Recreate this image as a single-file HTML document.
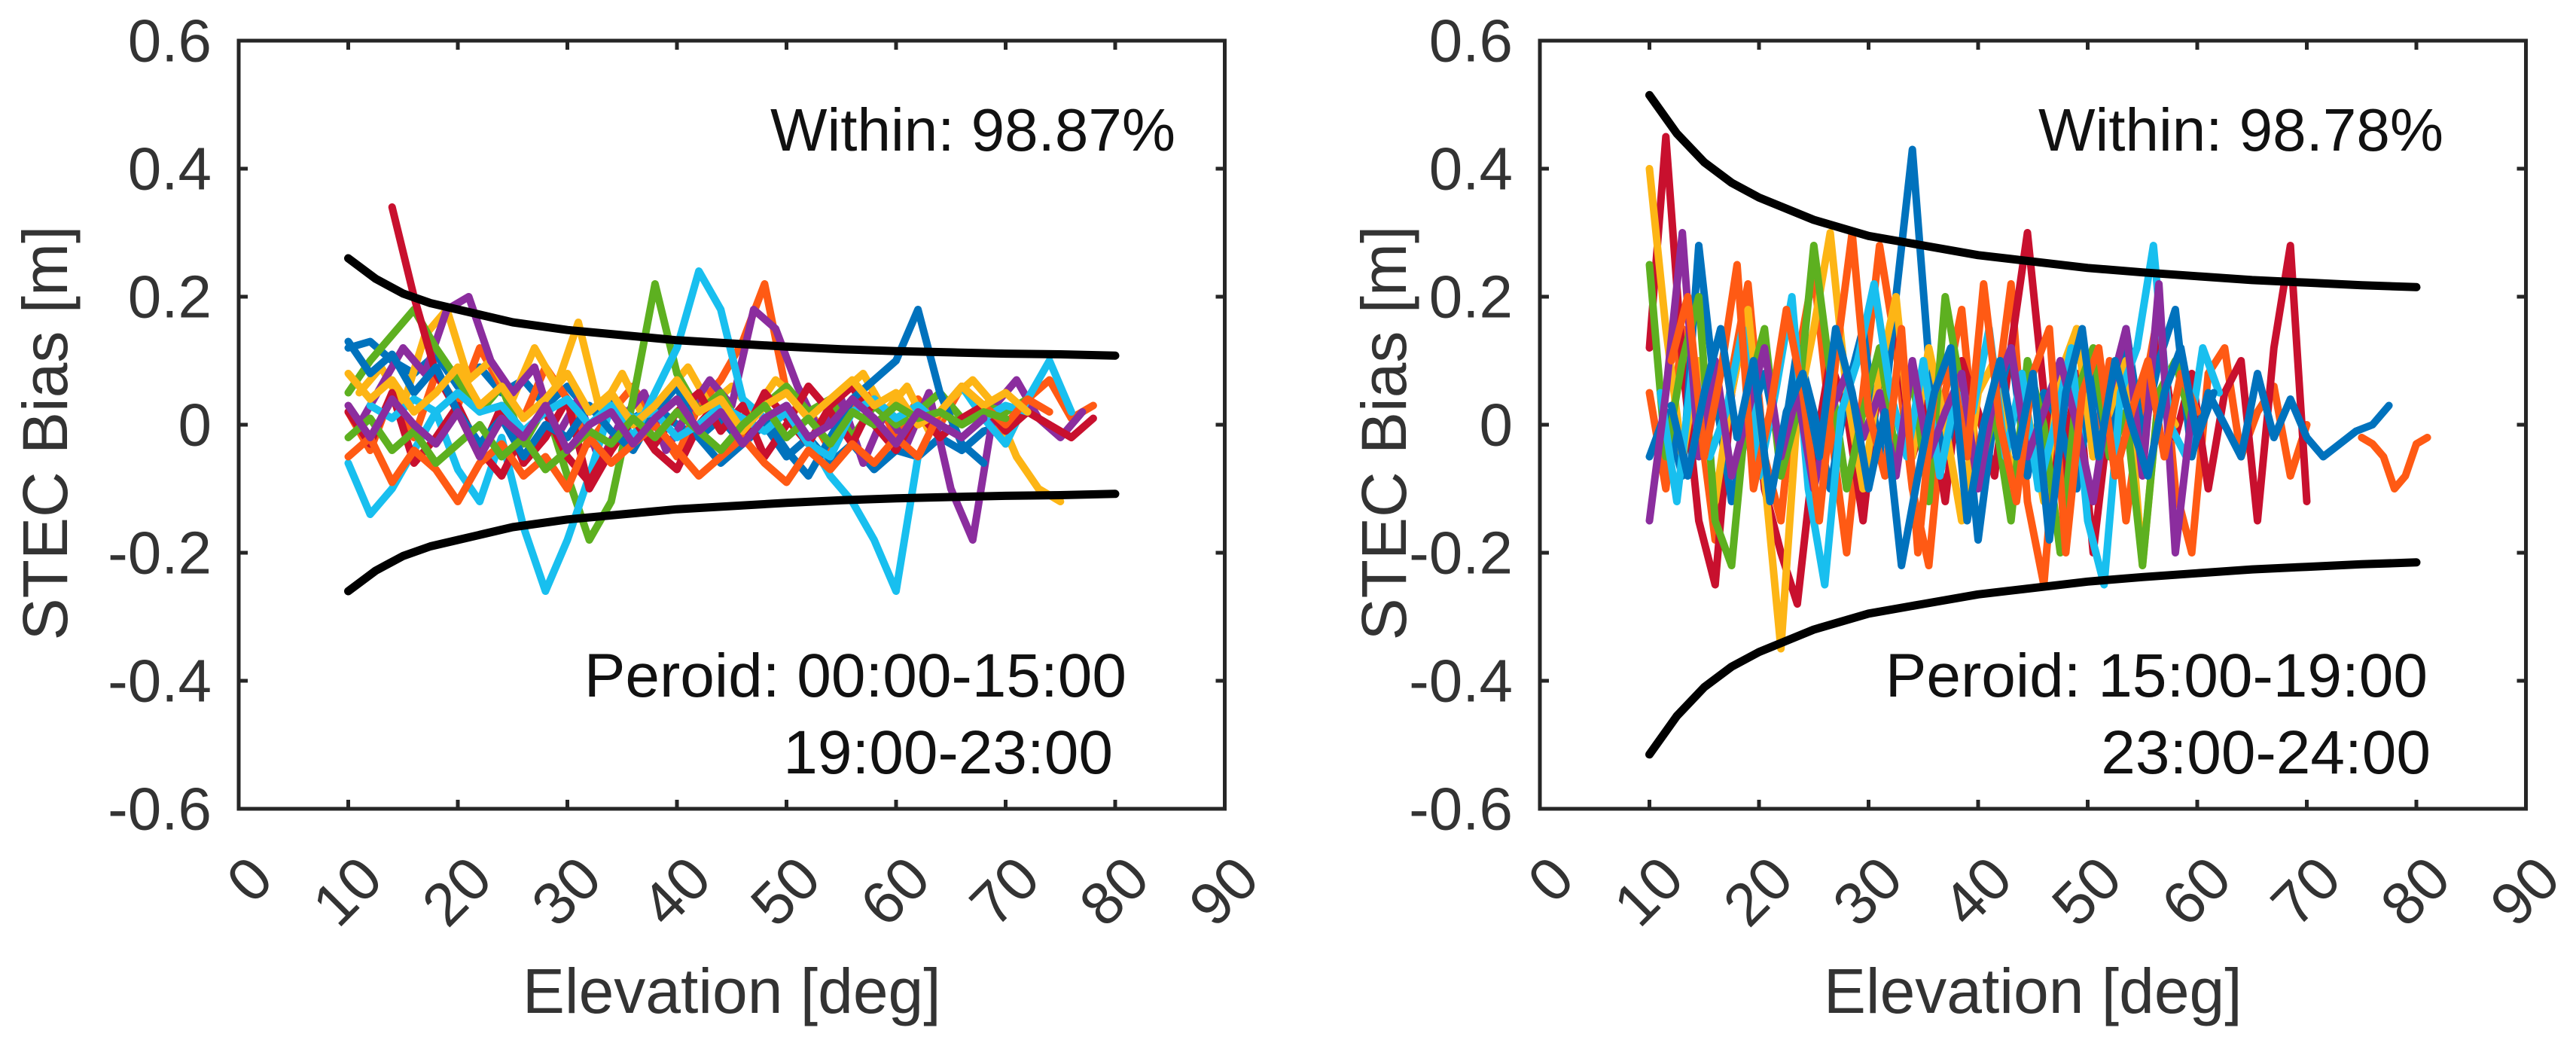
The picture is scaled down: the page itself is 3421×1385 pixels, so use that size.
<!DOCTYPE html>
<html><head><meta charset="utf-8"><style>
html,body{margin:0;padding:0;background:#fff;}
svg{display:block;font-family:"Liberation Sans",Arial,sans-serif;}
</style></head><body>
<svg id="fig" width="3421" height="1385" viewBox="0 0 3421 1385" xmlns="http://www.w3.org/2000/svg">
<rect width="3421" height="1385" fill="#fff"/>
</svg>
<script>
// ---------- data ----------
const xTickLabels = ["0","10","20","30","40","50","60","70","80","90"];
const yTickLabels = ["-0.6","-0.4","-0.2","0","0.2","0.4","0.6"];
const yTickValues = [-0.6,-0.4,-0.2,0,0.2,0.4,0.6];
const boundElev = [10,12.5,15,17.5,20,25,30,35,40,45,50,55,60,65,70,75,80];
const boundLeft = [0.26,0.228,0.205,0.19,0.18,0.16,0.148,0.14,0.132,0.127,0.122,0.118,0.115,0.113,0.111,0.11,0.108];
const boundRight = [0.515,0.455,0.41,0.378,0.355,0.32,0.295,0.28,0.265,0.255,0.245,0.238,0.232,0.226,0.222,0.218,0.215];
const palette = ["#0072BD","#FF5A14","#FDB515","#8B2D9E","#5DB020","#18BFEF","#C8102E"];

const leftStarts = [10,10,11,11,10,10,10,14,10,12,10,10,10,10];
const leftSteps  = [2,2,2,2,2,2,2,2,2,2,2,2,2,2];
const leftColors = [0,1,2,3,4,5,6,6,0,5,1,2,4,3];
const leftValues = [
[0.12,0.13,0.10,0.08,0.11,0.06,0.09,0.05,0.07,0.03,0.06,0.02,0.04,0.01,0.03,0.00,-0.02,0.01,-0.03,0.00,-0.05,-0.02,-0.06,-0.03,-0.07,-0.04,-0.05,-0.02,-0.04,-0.01,0.00],
[0.02,-0.04,0.05,-0.02,0.08,0.03,0.12,0.06,0.01,0.09,0.04,-0.03,0.02,0.06,0.00,-0.05,0.03,0.07,0.13,0.22,0.05,0.02,-0.04,0.03,0.05,-0.02,0.04,0.00,0.06,0.02,-0.03,0.04,0.07,0.01,0.03],
[0.05,0.09,0.03,0.14,0.18,0.07,0.10,0.04,0.12,0.06,0.16,0.02,0.08,0.01,0.05,0.09,0.03,0.06,0.02,0.07,0.04,0.00,0.05,0.08,0.02,0.06,-0.01,0.04,0.07,0.03,-0.05,-0.10,-0.12],
[0.00,0.06,0.12,0.08,0.18,0.20,0.10,0.05,0.09,-0.02,0.04,-0.06,0.01,0.05,-0.04,0.02,0.07,0.03,0.18,0.15,0.06,-0.01,0.04,-0.06,0.02,-0.03,0.05,-0.10,-0.18,0.03,0.07,0.01,-0.02,0.02],
[0.05,0.10,0.14,0.18,0.12,0.07,0.02,0.06,-0.03,0.03,-0.08,-0.18,-0.12,0.04,0.22,0.08,0.02,0.05,-0.01,0.03,0.06,0.02,0.04,-0.02,0.03,0.00,0.02,0.05,0.01,0.03,0.02,0.04],
[-0.06,-0.14,-0.10,-0.04,0.02,-0.07,-0.12,-0.02,-0.16,-0.26,-0.18,-0.08,0.03,-0.02,0.05,0.12,0.24,0.18,0.04,0.01,0.03,-0.02,-0.08,-0.12,-0.18,-0.26,-0.05,0.02,0.06,0.01,-0.03,0.04,0.10,0.02],
[0.02,-0.03,0.05,-0.06,-0.02,0.03,-0.04,-0.08,-0.01,0.02,-0.05,-0.09,-0.03,0.01,-0.04,-0.07,0.00,0.04,-0.02,0.05,0.01,-0.03,0.03,0.06,0.00,-0.04,0.02,-0.02,0.01,0.03,-0.01,0.02,0.00,-0.02,0.01],
[0.34,0.20,0.08,0.02,-0.05,0.03,-0.06,-0.02,0.04,-0.10,-0.04,0.01,-0.03,0.02,0.05,-0.01,0.03,-0.05,0.00,0.06,0.02,-0.03,0.04,0.01],
[0.13,0.08,0.11,0.05,0.09,0.02,-0.03,0.01,-0.05,0.00,-0.02,0.03,-0.01,-0.04,0.02,0.06,-0.02,-0.06,-0.03,0.01,-0.04,-0.08,-0.02,0.04,0.07,0.10,0.18,0.05,-0.03,-0.06],
[0.03,0.01,0.04,0.02,0.05,0.02,0.03,-0.01,0.02,0.04,0.00,0.03,0.01,0.02,-0.02,0.00,0.03,0.01,-0.01,0.02,-0.03,-0.05,0.02,0.04,0.01,0.03,0.00,-0.02,0.01,0.03,0.02],
[-0.05,-0.02,-0.09,-0.04,-0.07,-0.12,-0.06,-0.03,-0.08,-0.05,-0.10,-0.02,-0.06,-0.03,0.00,-0.04,-0.08,-0.05,-0.02,-0.06,-0.09,-0.04,-0.07,-0.03,-0.06,-0.02,-0.05,0.02,0.06,0.03,0.00,0.04,0.02],
[0.08,0.04,0.07,0.02,0.05,0.09,0.03,0.06,0.01,0.04,0.08,0.02,0.05,0.00,0.03,0.07,0.02,0.04,-0.01,0.03,0.05,0.01,0.04,0.07,0.03,0.05,0.00,0.02,0.06,0.03,0.05,0.02],
[-0.02,0.01,-0.04,-0.01,-0.06,-0.03,0.00,-0.05,-0.02,-0.07,-0.04,-0.01,-0.03,0.01,-0.02,0.02,-0.01,-0.04,0.00,0.03,-0.02,0.01,-0.03,0.02,0.00,0.03,0.01,0.02,0.00,0.02,0.01],
[0.03,-0.02,0.04,0.00,-0.03,0.02,-0.05,0.01,-0.02,0.03,-0.04,0.00,0.02,-0.03,0.01,0.04,-0.01,0.02,-0.03,0.01,0.03,-0.02,0.00,0.04,0.01,-0.03,0.02,0.00,-0.02,0.01]
];

const rightStarts = [10,10,10,10,10,11,10,12,75,12];
const rightSteps  = [1.5,1.5,1.5,1.5,1.5,1.5,1.5,1.5,1,1.5];
const rightColors = [1,6,0,2,4,5,3,1,1,0];
const rightValues = [
[0.05,-0.10,0.15,0.02,-0.18,0.08,0.22,-0.05,-0.15,0.10,0.24,0.00,-0.20,0.05,0.28,0.12,-0.10,-0.22,0.05,0.18,-0.08,0.02,0.22,-0.12,-0.25,0.06,0.15,-0.05,0.10,-0.15,0.04,0.18,-0.10,-0.20,0.08,0.12,-0.05,0.02,0.06,-0.08,0.00],
[0.12,0.45,0.10,-0.15,-0.25,0.05,0.18,-0.10,-0.20,-0.28,-0.05,0.10,0.02,-0.15,0.08,0.15,-0.05,0.04,-0.12,0.10,0.02,-0.08,0.12,0.30,0.05,-0.10,0.08,-0.20,0.02,0.10,-0.05,0.15,-0.02,0.08,-0.10,0.05,0.10,-0.15,0.12,0.28,-0.12],
[-0.05,0.02,-0.08,0.28,0.05,-0.12,0.00,0.08,-0.05,0.12,0.02,-0.10,0.05,0.15,-0.05,0.20,0.43,0.10,-0.05,0.08,-0.18,0.02,0.12,-0.08,0.05,0.00,-0.10,0.08,-0.05,0.15,-0.02,0.10,0.18,-0.05,0.05,0.00,-0.05,0.08,-0.02,0.04,-0.02,-0.05,-0.03,-0.01,0.00,0.03],
[0.40,0.15,-0.05,0.10,-0.12,0.05,0.18,-0.08,-0.35,0.02,0.15,0.30,0.05,-0.10,0.08,0.20,-0.05,0.12,0.00,-0.15,0.05,0.10,-0.08,0.02,-0.12,0.08,0.15,-0.05,0.02,0.10,-0.22,0.05,0.00],
[0.25,-0.05,0.10,0.20,-0.15,-0.22,0.05,0.15,-0.08,0.02,0.28,0.08,-0.10,0.02,0.12,-0.05,0.08,-0.12,0.20,0.05,-0.08,0.02,-0.15,0.10,0.00,-0.20,0.05,0.12,-0.05,0.02,-0.22,0.05,0.10,0.00],
[0.05,-0.12,0.10,-0.05,0.02,0.15,-0.08,0.05,0.20,-0.10,-0.25,0.02,0.10,0.22,0.05,-0.05,0.10,-0.08,0.05,0.02,0.15,-0.05,0.08,-0.10,0.00,0.12,-0.15,-0.25,0.05,0.12,0.28,0.00,-0.05,0.12,0.05],
[-0.15,0.05,0.30,-0.05,0.10,-0.08,0.02,0.12,-0.05,0.05,-0.10,0.02,0.08,-0.02,0.05,-0.08,0.10,-0.05,0.02,0.08,-0.10,0.05,0.12,-0.05,0.02,0.10,0.00,-0.12,0.05,0.15,-0.08,0.22,-0.20,0.02],
[0.10,0.20,-0.05,0.08,0.25,-0.10,0.02,0.18,0.05,-0.15,0.10,0.30,0.02,-0.08,0.15,-0.20,0.05,0.10,-0.05,0.22,0.00,-0.12,0.08,0.15,-0.20,0.05,0.12,-0.08,0.02,0.10,-0.05,0.08,0.02],
[-0.02,-0.03,-0.05,-0.10,-0.08,-0.03,-0.02],
[0.03,-0.08,0.05,0.15,-0.02,0.10,-0.12,0.02,0.08,-0.05,0.15,0.05,-0.10,0.02,-0.22,-0.08,0.05,0.12,-0.15,0.00,0.10,-0.05,0.08,-0.18,0.05,0.15,-0.05,0.10,0.00,-0.08,0.05,0.12,-0.02,0.05]
];

// ---------- drawing ----------
const NS = "http://www.w3.org/2000/svg";
const svg = document.getElementById('fig');
const Y0 = 564, YK = 850, YTOP = 54, YBOT = 1074;
function mk(tag, attrs, parent){
  const e = document.createElementNS(NS, tag);
  for (const k in attrs) e.setAttribute(k, attrs[k]);
  (parent||svg).appendChild(e);
  return e;
}
function yS(v){ return Y0 - v*YK; }

function panel(cfg){
  const xS = v => cfg.x0 + v*cfg.k;
  const g = mk('g', {});
  
  
  const x90 = xS(90);
  const sg = mk('g', {fill:'none','stroke-linejoin':'round','stroke-linecap':'round','stroke-width':10}, g);
  
  
  cfg.values.forEach((vals, i) => {
    const pts = vals.map((v, j) => xS(cfg.starts[i] + j*cfg.steps[i]).toFixed(1) + ',' + yS(v).toFixed(1)).join(' ');
    const pl = mk('polyline', {points: pts, stroke: palette[cfg.colors[i]]}, sg);
    
    
  });
  [1, -1].forEach(sgn => {
    const pts = boundElev.map((e, j) => xS(e).toFixed(1) + ',' + yS(sgn*cfg.bound[j]).toFixed(1)).join(' ');
    const b = mk('polyline', {points: pts, fill:'none', stroke:'#000', 'stroke-width':11, 'stroke-linecap':'round','stroke-linejoin':'round'}, g);
    
    
  });
  const box = mk('rect', {x: cfg.x0, y: YTOP, width: x90 - cfg.x0, height: YBOT - YTOP, fill:'none', stroke:'#262626', 'stroke-width':5}, g);
  
  
  xTickLabels.forEach((lab, i) => {
    const x = xS(i*10);
    mk('line', {x1:x, x2:x, y1:YBOT, y2:YBOT-12, stroke:'#262626','stroke-width':5}, g);
    mk('line', {x1:x, x2:x, y1:YTOP, y2:YTOP+12, stroke:'#262626','stroke-width':5}, g);
    const t = mk('text', {x: x+30, y: 1152, 'text-anchor':'end', 'dominant-baseline':'central', 'font-size':80, fill:'#333', transform:'rotate(-45 '+(x+30)+' 1152)'}, g);
    t.textContent = lab;
    
    
  });
  yTickValues.forEach((v, i) => {
    const y = yS(v);
    mk('line', {x1:cfg.x0, x2:cfg.x0+12, y1:y, y2:y, stroke:'#262626','stroke-width':5}, g);
    mk('line', {x1:x90, x2:x90-12, y1:y, y2:y, stroke:'#262626','stroke-width':5}, g);
    const t = mk('text', {x: cfg.x0-36, y: y, 'text-anchor':'end', 'dominant-baseline':'central', 'font-size':80, fill:'#333'}, g);
    t.textContent = yTickLabels[i];
    
    
  });
  const xt = mk('text', {x:(cfg.x0+x90)/2, y:1345, 'text-anchor':'middle', 'font-size':84, fill:'#333'}, g);
  xt.textContent = 'Elevation [deg]';
  
  
  const yt = mk('text', {x:cfg.ytx, y:575, 'text-anchor':'middle', 'dominant-baseline':'central', 'font-size':84, fill:'#333', transform:'rotate(-90 '+cfg.ytx+' 575)'}, g);
  yt.textContent = 'STEC Bias [m]';
  
  
  const w = mk('text', {x:cfg.wx, y:200, 'text-anchor':'end', 'font-size':80, fill:'#111'}, g);
  w.textContent = cfg.within;
  
  
  const p1 = mk('text', {x:cfg.p1x, y:925, 'text-anchor':'end', 'font-size':82, fill:'#111'}, g);
  p1.textContent = cfg.period1;
  
  
  const p2 = mk('text', {x:cfg.p2x, y:1027, 'text-anchor':'end', 'font-size':82, fill:'#111'}, g);
  p2.textContent = cfg.period2;
  
  
}

panel({name:'left-panel', x0:317, k:14.55, starts:leftStarts, steps:leftSteps, colors:leftColors, values:leftValues, bound:boundLeft,
  ytx:60, wx:1561, within:'Within: 98.87%', p1x:1496, p2x:1478, period1:'Peroid: 00:00-15:00', period2:'19:00-23:00'});
panel({name:'right-panel', x0:2045, k:14.55, starts:rightStarts, steps:rightSteps, colors:rightColors, values:rightValues, bound:boundRight,
  ytx:1838, wx:3245, within:'Within: 98.78%', p1x:3224, p2x:3228, period1:'Peroid: 15:00-19:00', period2:'23:00-24:00'});
</script>
</body></html>
